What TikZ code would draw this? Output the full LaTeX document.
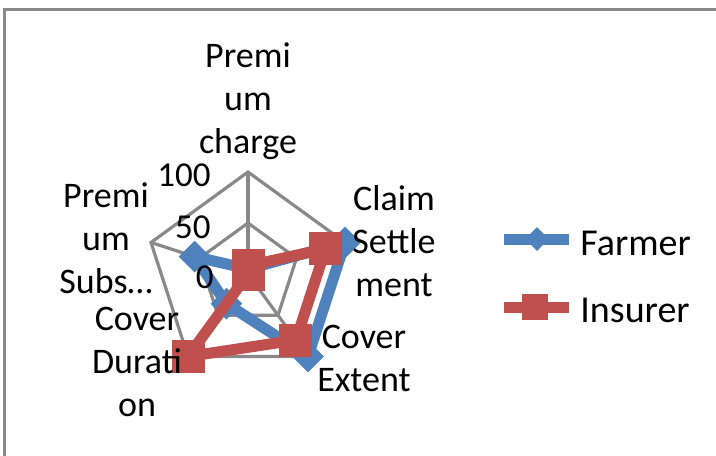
\documentclass[tikz,border=0pt]{standalone}
\usepackage{fontspec}
\setmainfont{Carlito}
\usepackage{xcolor}
\usetikzlibrary{shapes.geometric}
\definecolor{farmerblue}{HTML}{4F81BD}
\definecolor{insurerred}{HTML}{C0504D}
\definecolor{gridgray}{HTML}{898989}
\tikzset{
  gridline/.style={draw=gridgray, line width=1.6pt},
  farmerline/.style={draw=farmerblue, line width=5.5pt, line join=round},
  insurerline/.style={draw=insurerred, line width=5.5pt, line join=round},
  farmermark/.style={diamond, fill=farmerblue, inner sep=0pt, minimum size=16pt},
  insurermark/.style={rectangle, fill=insurerred, inner sep=0pt, minimum size=16.5pt},
  axislabel/.style={font=\fontsize{18}{21.5}\selectfont, align=center, anchor=base, inner sep=0pt},
  ticklabel/.style={font=\fontsize{17.5}{21.5}\selectfont, anchor=base east, inner sep=0pt},
  legendlabel/.style={font=\fontsize{19}{21.5}\selectfont, anchor=base west, inner sep=0pt}
}

\begin{document}
\begin{tikzpicture}[x=0.5pt,y=0.5pt]
\useasboundingbox (-248,-181) rectangle (468,274);
\draw[gridline] (-243.5,-200) -- (-243.5,264.5) -- (490,264.5); %chart frame

%grid: outer (100) and inner (50) pentagon, spokes
\draw[gridline] (90:102) -- (18:102) -- (-54:102) -- (234:102) -- (162:102) -- cycle;
\draw[gridline] (90:51) -- (18:51) -- (-54:51) -- (234:51) -- (162:51) -- cycle;
\draw[gridline] (0,0) -- (90:102);
\draw[gridline] (0,0) -- (18:102);
\draw[gridline] (0,0) -- (-54:102);
\draw[gridline] (0,0) -- (234:102);
\draw[gridline] (0,0) -- (162:102);

%Farmer
\coordinate (f1) at (90:5.1);
\coordinate (f2) at (18:102);
\coordinate (f3) at (-54:102);
\coordinate (f4) at (234:36.7);
\coordinate (f5) at (162:56.1);
\draw[farmerline] (f1) -- (f2) -- (f3) -- (f4) -- (f5) -- cycle;
\node[farmermark] (mf1) at (f1) {};
\node[farmermark] (mf2) at (f2) {};
\node[farmermark] (mf3) at (f3) {};
\node[farmermark] (mf4) at (f4) {};
\node[farmermark] (mf5) at (f5) {};

%Insurer
\coordinate (i1) at (90:8.2);
\coordinate (i2) at (18:81.6);
\coordinate (i3) at (-54:81.6);
\coordinate (i4) at (234:102);
\coordinate (i5) at (0,0);
\draw[insurerline] (i1) -- (i2) -- (i3) -- (i4) -- (i5) -- cycle;
\node[insurermark] (mi1) at (i1) {};
\node[insurermark] (mi2) at (i2) {};
\node[insurermark] (mi3) at (i3) {};
\node[insurermark] (mi4) at (i4) {};
\node[insurermark] (mi5) at (i5) {};

%scale
\node[ticklabel] (t100) at (-37,87) {100};
\node[ticklabel] (t50) at (-37,36) {50};
\node[ticklabel] (t0) at (-34,-14) {0};

%category labels (anchor = baseline of last line)
\node[axislabel] (charge) at (0,120) {Premi\\um\\charge};
\node[axislabel] (claim) at (146,-22) {Claim\\Settle\\ment};
\node[axislabel] (extent) at (116,-117) {Cover\\Extent};
\node[axislabel] (duration) at (-111,-142) {Cover\\Durati\\on};
\node[axislabel] (subsidy) at (-142,-19) {Premi\\um\\Subs\dots};

%legend
\coordinate (lf1) at (256,35);
\coordinate (lf2) at (321,35);
\draw[farmerline] (lf1) -- (lf2);
\node[farmermark, minimum size=12pt] (lfm) at (289,35) {};
\node[legendlabel] (lfarmer) at (332,19) {Farmer};
\coordinate (li1) at (256,-33);
\coordinate (li2) at (321,-33);
\draw[insurerline] (li1) -- (li2);
\node[insurermark, minimum size=13pt] (lim) at (287,-33) {};
\node[legendlabel] (linsurer) at (332,-48) {Insurer};
\end{tikzpicture}
\end{document}
